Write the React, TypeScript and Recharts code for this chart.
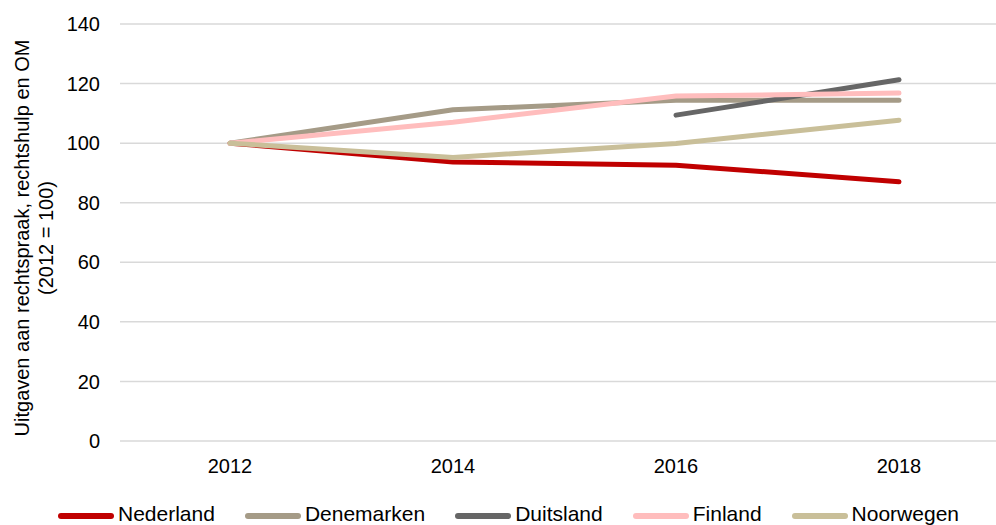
import { LineChart, Line, XAxis, YAxis, CartesianGrid, Legend, Label } from "recharts";

const years = ["2012", "2014", "2016", "2018"];
const nederland = [100, 93.7, 92.6, 87.0];
const denemarken = [100, 111.2, 114.4, 114.4];
const duitsland = [null, null, 109.4, 121.3];
const finland = [100, 107.0, 115.8, 116.8];
const noorwegen = [100, 95.2, 99.9, 107.7];
const yTicks = [0, 20, 40, 60, 80, 100, 120, 140];

const series = [
  { key: "Nederland", values: nederland, color: "#c00000" },
  { key: "Denemarken", values: denemarken, color: "#a59b87" },
  { key: "Duitsland", values: duitsland, color: "#666666" },
  { key: "Finland", values: finland, color: "#ffbdbd" },
  { key: "Noorwegen", values: noorwegen, color: "#c9bf99" },
];

const data = years.map((year, i) => {
  const row: Record<string, string | number | null> = { year };
  series.forEach((s) => {
    row[s.key] = s.values[i];
  });
  return row;
});

const FONT = "'Liberation Sans', Arial, sans-serif";

const YLabel = () => (
  <g>
    <text
      transform="translate(22, 238) rotate(-90)"
      textAnchor="middle"
      dominantBaseline="central"
      fontSize={20}
      fontFamily={FONT}
      fill="#000"
    >
      Uitgaven aan rechtspraak, rechtshulp en OM
    </text>
    <text
      transform="translate(46, 238) rotate(-90)"
      textAnchor="middle"
      dominantBaseline="central"
      fontSize={20}
      fontFamily={FONT}
      fill="#000"
    >
      (2012 = 100)
    </text>
  </g>
);

const ChartLegend = () => (
  <div
    style={{
      height: 30,
      display: "flex",
      alignItems: "center",
      paddingLeft: 58,
      paddingTop: 7,
      boxSizing: "border-box",
      fontFamily: FONT,
      fontSize: 21,
      lineHeight: "24px",
      color: "#000",
    }}
  >
    {series.map((s) => (
      <div key={s.key} style={{ display: "flex", alignItems: "center", marginRight: 30 }}>
        <span
          style={{
            display: "inline-block",
            width: 56,
            height: 6,
            borderRadius: 3,
            background: s.color,
            marginRight: 4,
            transform: "translateY(2px)",
          }}
        />
        <span>{s.key}</span>
      </div>
    ))}
  </div>
);

const App = () => {
  return (
    <div style={{ position: "absolute", top: 0, left: 0, width: 996, height: 525, overflow: "hidden", background: "#fff" }}>
      <LineChart width={996} height={525} data={data} margin={{ top: 24, right: 0, left: 0, bottom: 0 }}>
        <CartesianGrid vertical={false} stroke="#d9d9d9" strokeWidth={1.5} />
        <XAxis
          dataKey="year"
          axisLine={false}
          tickLine={false}
          tickSize={0}
          tickMargin={18}
          height={54}
          padding={{ left: 110, right: 97 }}
          tick={{ fontSize: 20, fontFamily: FONT, fill: "#000" }}
        />
        <YAxis
          domain={[0, 140]}
          ticks={yTicks}
          axisLine={false}
          tickLine={false}
          tickSize={0}
          tickMargin={20}
          width={120}
          tick={{ fontSize: 20, fontFamily: FONT, fill: "#000" }}
        >
          <Label content={<YLabel />} />
        </YAxis>
        <Legend verticalAlign="bottom" content={<ChartLegend />} wrapperStyle={{ left: 0, width: 996, bottom: 0 }} />
        {series.map((s) => (
          <Line
            key={s.key}
            type="linear"
            dataKey={s.key}
            stroke={s.color}
            strokeWidth={5}
            strokeLinecap="round"
            strokeLinejoin="round"
            dot={false}
            activeDot={false}
            isAnimationActive={false}
          />
        ))}
      </LineChart>
    </div>
  );
};

export default App;
